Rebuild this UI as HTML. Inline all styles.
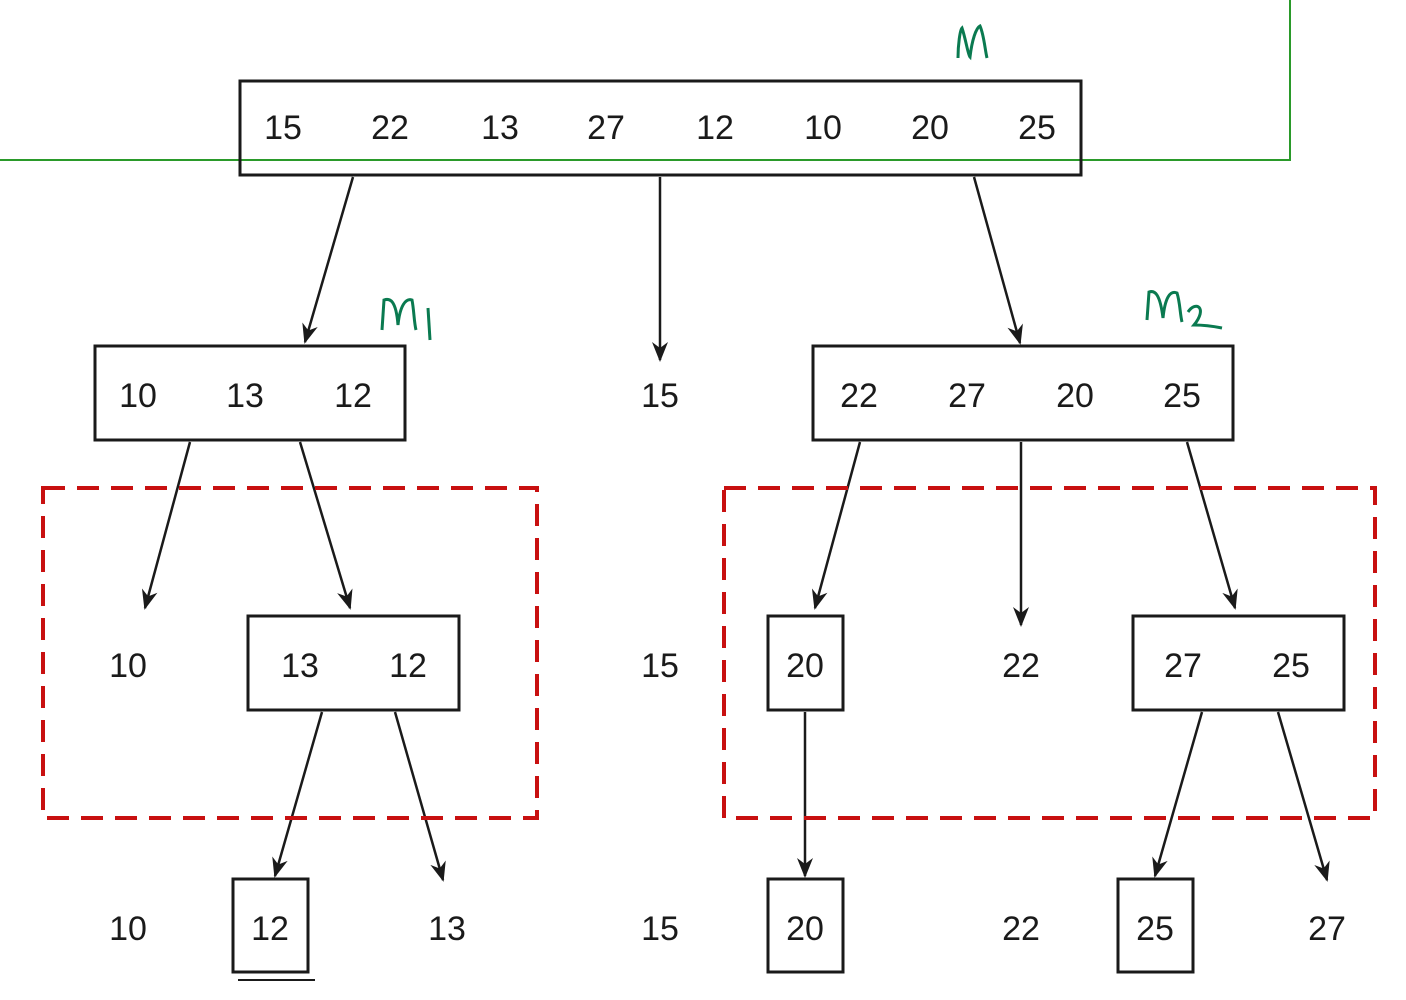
<!DOCTYPE html>
<html><head><meta charset="utf-8"><style>
html,body{margin:0;padding:0;background:#fff;}
svg{display:block;}
text{font-family:"Liberation Sans",sans-serif;font-size:34px;fill:#1a1a1a;text-anchor:middle;}
</style></head><body>
<svg width="1406" height="1000" viewBox="0 0 1406 1000" xmlns="http://www.w3.org/2000/svg">
<defs>
<marker id="ah" viewBox="0 0 20 20" refX="18" refY="10" markerWidth="20" markerHeight="20" markerUnits="userSpaceOnUse" orient="auto">
<path d="M0,2 L20,10 L0,18 L6,10 Z" fill="#1a1a1a"/>
</marker>
</defs>
<!-- green lines -->
<polyline points="0,160 1290,160 1290,0" fill="none" stroke="#2a9a2a" stroke-width="2"/>
<path d="M958,58 C958,45 960,30 962,28 C966,40 968,55 970,57 C972,40 976,28 980,26 C984,35 985,50 987,58" fill="none" stroke="#0a7a50" stroke-width="3"/>
<path d="M382,330 L384,300 C390,298 396,300 398,325 C400,305 406,298 412,300 C414,310 414,322 416,330 M428,308 L430,340" fill="none" stroke="#0a7a50" stroke-width="3"/>
<path d="M1147,320 L1149,292 C1155,290 1160,294 1163,318 C1165,298 1170,290 1177,293 C1180,302 1180,314 1182,322 M1188,312 C1196,300 1208,308 1194,325 C1205,325 1212,326 1222,328" fill="none" stroke="#0a7a50" stroke-width="3"/>
<g fill="none" stroke="#1a1a1a" stroke-width="3">
<rect x="240" y="81" width="841" height="94"/>
<rect x="95" y="346" width="310" height="94"/>
<rect x="813" y="346" width="420" height="94"/>
<rect x="248" y="616" width="211" height="94"/>
<rect x="768" y="616" width="75" height="94"/>
<rect x="1133" y="616" width="211" height="94"/>
<rect x="233" y="879" width="75" height="93"/>
<rect x="768" y="879" width="75" height="93"/>
<rect x="1118" y="879" width="75" height="93"/>
</g>
<line x1="238" y1="980" x2="315" y2="980" stroke="#1a1a1a" stroke-width="2"/>
<g stroke="#1a1a1a" stroke-width="2.5" marker-end="url(#ah)">
<line x1="353" y1="177" x2="305" y2="342"/>
<line x1="660" y1="177" x2="660" y2="360"/>
<line x1="974" y1="177" x2="1020" y2="343"/>
<line x1="190" y1="442" x2="145" y2="608"/>
<line x1="300" y1="442" x2="350" y2="608"/>
<line x1="860" y1="442" x2="815" y2="608"/>
<line x1="1021" y1="442" x2="1021" y2="625"/>
<line x1="1187" y1="442" x2="1235" y2="608"/>
<line x1="322" y1="712" x2="275" y2="876"/>
<line x1="395" y1="712" x2="443" y2="880"/>
<line x1="805" y1="712" x2="805" y2="876"/>
<line x1="1202" y1="712" x2="1155" y2="876"/>
<line x1="1278" y1="712" x2="1327" y2="880"/>
</g>
<g fill="none" stroke="#c81010" stroke-width="4" stroke-dasharray="22 12">
<rect x="43" y="488" width="494" height="330"/>
<rect x="724" y="488" width="651" height="330"/>
</g>
<g>
<text x="283" y="139">15</text><text x="390" y="139">22</text><text x="500" y="139">13</text><text x="606" y="139">27</text>
<text x="715" y="139">12</text><text x="823" y="139">10</text><text x="930" y="139">20</text><text x="1037" y="139">25</text>
<text x="138" y="407">10</text><text x="245" y="407">13</text><text x="353" y="407">12</text>
<text x="660" y="407">15</text>
<text x="859" y="407">22</text><text x="967" y="407">27</text><text x="1075" y="407">20</text><text x="1182" y="407">25</text>
<text x="128" y="677">10</text><text x="300" y="677">13</text><text x="408" y="677">12</text>
<text x="660" y="677">15</text><text x="805" y="677">20</text><text x="1021" y="677">22</text>
<text x="1183" y="677">27</text><text x="1291" y="677">25</text>
<text x="128" y="940">10</text><text x="270" y="940">12</text><text x="447" y="940">13</text>
<text x="660" y="940">15</text><text x="805" y="940">20</text><text x="1021" y="940">22</text>
<text x="1155" y="940">25</text><text x="1327" y="940">27</text>
</g>
</svg>
</body></html>
